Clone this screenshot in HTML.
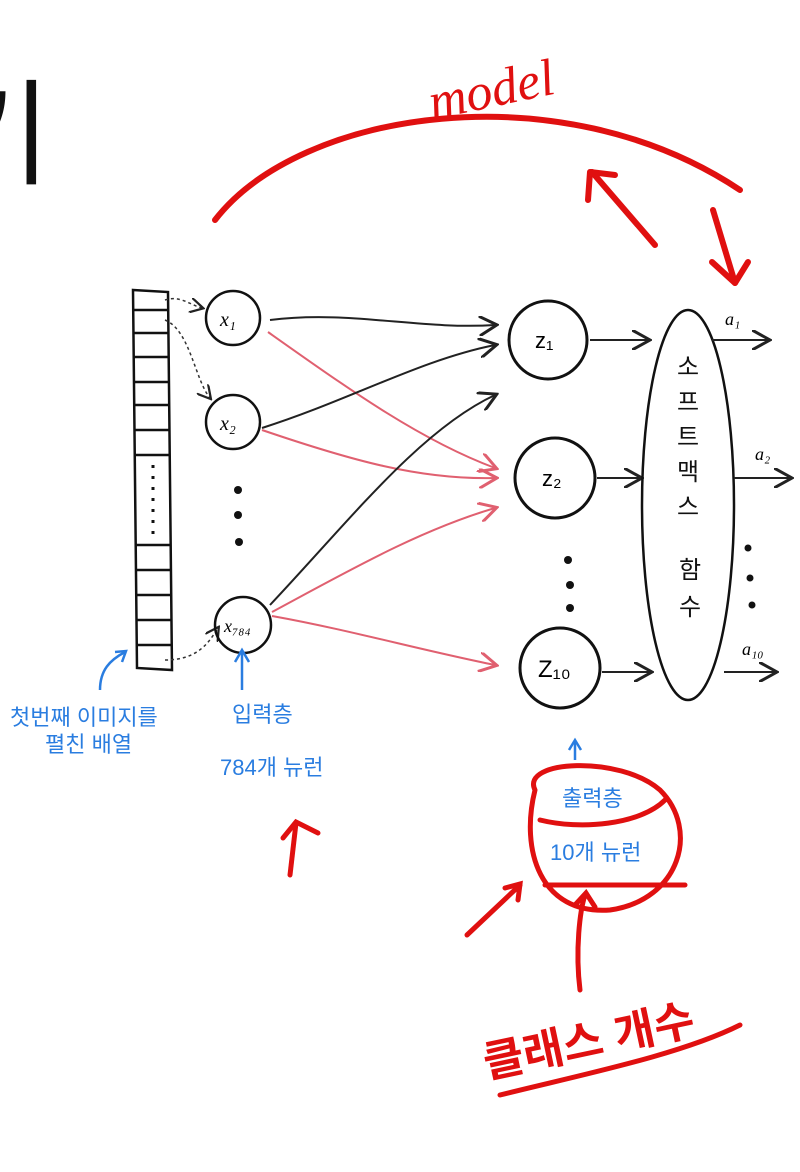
<!DOCTYPE html>
<html><head><meta charset="utf-8"><style>
html,body{margin:0;padding:0;background:#fff;width:800px;height:1172px;overflow:hidden}
svg{display:block}
.k{font-family:"Liberation Sans","Noto Sans CJK KR",sans-serif}
</style></head><body>
<svg width="800" height="1172" viewBox="0 0 800 1172">
<defs>
<marker id="ab" markerWidth="10" markerHeight="10" refX="8" refY="5" orient="auto"><path d="M0,0 L9,5 L0,10" fill="none" stroke="#222" stroke-width="1.5"/></marker>
<marker id="ap" markerWidth="10" markerHeight="10" refX="8" refY="5" orient="auto"><path d="M0,0 L9,5 L0,10" fill="none" stroke="#e06070" stroke-width="1.5"/></marker>
</defs>
<text class="k" x="-55" y="175" font-size="115" fill="#111">기</text>

<g fill="none" stroke="#e01010" stroke-width="6" stroke-linecap="round">
<path d="M215,220 C300,110 560,70 740,190"/>
<path d="M655,245 L592,172"/><path d="M590,172 L588,200 M590,172 L615,175"/>
<path d="M713,210 L735,283"/><path d="M735,283 L712,262 M735,283 L748,262"/>
</g>
<text x="428" y="105" font-size="52" fill="#e01010" font-family="Liberation Serif,serif" font-style="italic" transform="rotate(-12 500 90)">model</text>

<g stroke="#111" stroke-width="2.5" fill="none">
<path d="M133,290 L168,292 L172,670 L137,668 Z"/>
<path d="M134,310 H169 M134,333 H169 M134,357 H169 M135,382 H169 M135,405 H170 M135,430 H170 M135,455 H170 M136,545 H171 M136,570 H171 M136,595 H171 M137,620 H171 M137,645 H172"/>
<path d="M153,465 V535" stroke-dasharray="3 8" stroke-width="3"/>
</g>
<g fill="none" stroke="#333" stroke-width="1.5" stroke-dasharray="3 3">
<path d="M165,300 C180,295 190,305 202,308" marker-end="url(#ab)"/>
<path d="M165,320 C190,330 195,380 210,398" marker-end="url(#ab)"/>
<path d="M165,660 C200,660 210,640 218,628" marker-end="url(#ab)"/>
</g>

<g fill="none" stroke="#111" stroke-width="2.5">
<circle cx="233" cy="318" r="27"/><circle cx="233" cy="422" r="27"/><circle cx="243" cy="625" r="28"/>
</g>
<g fill="#111"><circle cx="238" cy="490" r="4"/><circle cx="238" cy="515" r="4"/><circle cx="239" cy="542" r="4"/></g>
<text x="220" y="326" font-size="20" font-style="italic" font-family="Liberation Serif,serif">x₁</text>
<text x="220" y="430" font-size="20" font-style="italic" font-family="Liberation Serif,serif">x₂</text>
<text x="224" y="632" font-size="18" font-style="italic" font-family="Liberation Serif,serif">x₇₈₄</text>

<g fill="none" stroke-width="2">
<path d="M270,320 C350,310 420,330 495,325" stroke="#222" marker-end="url(#ab)"/>
<path d="M268,332 C350,390 420,440 495,468" stroke="#e06070" marker-end="url(#ap)"/>
<path d="M262,428 C350,400 420,360 495,345" stroke="#222" marker-end="url(#ab)"/>
<path d="M262,430 C350,460 420,480 495,478" stroke="#e06070" marker-end="url(#ap)"/>
<path d="M270,605 C350,520 420,430 495,395" stroke="#222" marker-end="url(#ab)"/>
<path d="M272,612 C350,570 420,530 495,508" stroke="#e06070" marker-end="url(#ap)"/>
<path d="M272,616 C350,630 420,650 495,665" stroke="#e06070" marker-end="url(#ap)"/>
</g>

<g fill="none" stroke="#111" stroke-width="3">
<circle cx="548" cy="340" r="39"/><circle cx="555" cy="478" r="40"/><circle cx="560" cy="668" r="40"/>
</g>
<g fill="#111"><circle cx="568" cy="560" r="4"/><circle cx="570" cy="585" r="4"/><circle cx="570" cy="608" r="4"/></g>
<text x="535" y="348" font-size="22" class="k">z₁</text>
<text x="542" y="486" font-size="22" class="k">z₂</text>
<text x="538" y="677" font-size="24" class="k">Z₁₀</text>
<g fill="none" stroke="#222" stroke-width="2">
<path d="M590,340 H648" marker-end="url(#ab)"/><path d="M597,478 H640" marker-end="url(#ab)"/><path d="M602,672 H650" marker-end="url(#ab)"/>
</g>

<ellipse cx="688" cy="505" rx="46" ry="195" fill="none" stroke="#111" stroke-width="2.5"/>
<g class="k" font-size="24" fill="#111" text-anchor="middle">
<text x="688" y="375">소</text><text x="688" y="410">프</text><text x="688" y="445">트</text><text x="688" y="480">맥</text><text x="688" y="515">스</text><text x="690" y="578">함</text><text x="690" y="615">수</text>
</g>
<g fill="none" stroke="#222" stroke-width="2">
<path d="M712,340 H768" marker-end="url(#ab)"/><path d="M734,478 H790" marker-end="url(#ab)"/><path d="M724,672 H775" marker-end="url(#ab)"/>
</g>
<g fill="#111"><circle cx="748" cy="548" r="3.5"/><circle cx="750" cy="578" r="3.5"/><circle cx="752" cy="605" r="3.5"/></g>
<text x="725" y="325" font-size="18" font-family="Liberation Serif,serif" font-style="italic">a₁</text>
<text x="755" y="460" font-size="18" font-family="Liberation Serif,serif" font-style="italic">a₂</text>
<text x="742" y="655" font-size="18" font-family="Liberation Serif,serif" font-style="italic">a₁₀</text>

<g fill="none" stroke="#2a7de0" stroke-width="2.5">
<path d="M100,690 C100,670 110,660 125,652"/><path d="M115,652 L126,651 L122,662"/>
<path d="M242,690 V652"/><path d="M235,662 L242,650 L249,662"/>
<path d="M575,760 V742"/><path d="M569,750 L575,740 L581,750"/>
</g>
<g class="k" fill="#2a7de0" font-size="22">
<text x="10" y="725">첫번째 이미지를</text>
<text x="45" y="752">펼친 배열</text>
<text x="232" y="722">입력층</text>
<text x="220" y="775">784개 뉴런</text>
<text x="562" y="806">출력층</text>
<text x="550" y="860">10개 뉴런</text>
</g>

<g fill="none" stroke="#e01010" stroke-width="5" stroke-linecap="round">
<path d="M535,790 C520,760 620,755 660,790 C700,830 680,900 610,910 C540,915 520,850 535,790"/>
<path d="M540,820 C580,830 640,825 665,800"/>
<path d="M545,885 H685"/>
<path d="M580,990 C575,950 580,910 585,895"/><path d="M575,905 L586,893 L595,907"/>
<path d="M290,875 L296,823"/><path d="M283,838 L296,822 L318,833"/>
<path d="M467,935 L520,885"/><path d="M505,888 L520,884 L518,900"/>
<path d="M500,1095 C580,1075 680,1055 740,1025"/>
</g>
<text class="k" x="480" y="1058" font-size="44" fill="#e01010" font-weight="bold" transform="rotate(-12 580 1035)">클래스 개수</text>
</svg>
</body></html>
